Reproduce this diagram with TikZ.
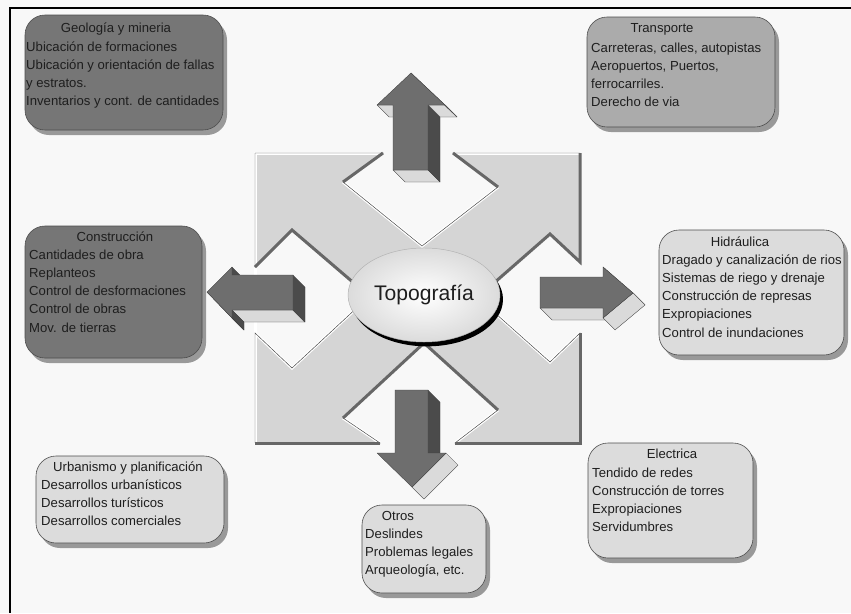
\documentclass[tikz,border=0pt]{standalone}
\usepackage{fontspec}
\setmainfont{Liberation Sans}
\usetikzlibrary{shapes.geometric,shadows}
\definecolor{pagebg}{HTML}{F8F8F8}
\definecolor{crossgray}{HTML}{D5D5D5}
\definecolor{bevdark}{HTML}{676767}
\definecolor{facegray}{HTML}{6E6E6E}
\definecolor{sidegray}{HTML}{4B4B4B}
\definecolor{litegray}{HTML}{DADADA}
\definecolor{boxdark}{HTML}{767676}
\definecolor{boxmid}{HTML}{ABABAB}
\definecolor{boxlite}{HTML}{DCDCDC}
\definecolor{inkgray}{HTML}{1E1E1E}
\tikzset{
	card/.style={rounded corners=0.6cm,draw=black!70,line width=0.5pt,drop shadow={shadow xshift=0.12cm,shadow yshift=-0.15cm,fill=black!40,opacity=1}},
	boxtitle/.style={inner sep=0pt,anchor=base,text=inkgray,font=\fontsize{11.2}{15.5}\selectfont},
	boxtext/.style={inner sep=0pt,anchor=base west,text=inkgray,font=\fontsize{11.2}{15.5}\selectfont},
	frontface/.style={fill=facegray,draw=black!75,line width=0.3pt,line join=round},
	darkface/.style={fill=sidegray,draw=black!75,line width=0.3pt,line join=round},
	litface/.style={fill=litegray,draw=black!75,line width=0.3pt,line join=round},
	lightedge/.style={white,line width=0.09cm},
	darkedge/.style={bevdark,line width=0.09cm},
	topo/.style={ellipse,minimum width=3.72cm,minimum height=2.82cm,inner color=white,outer color=gray!28,draw=gray!60,drop shadow={shadow xshift=0.09cm,shadow yshift=-0.13cm,fill=black,opacity=1},text=inkgray,font=\fontsize{18}{20}\selectfont}
}

\begin{document}
\begin{tikzpicture}[x=0.03cm,y=-0.03cm]
				\useasboundingbox (0,0) rectangle (851,613);
				\fill[pagebg] (0,0) rectangle (851,613);
				\draw[line width=0.06cm] (851,8)--(10,8)--(10,613);
				\fill[crossgray] (255,153)--(383,153)--(343,182)--(422,246)--(498,187)--(453,153)--(580,153)--(580,262)--(550,234)--(486,290)--(486,305)--(550,362)--(580,333)--(580,443)--(455,443)--(498,410)--(424,343)--(343,418)--(380,443)--(255,443)--(255,333)--(292,368)--(362,303)--(362,290)--(292,230)--(255,267)--cycle;
				\draw[lightedge] (380,443)--(255,443)--(255,153)--(383,153);
				\draw[lightedge] (453,153)--(580,153);
				\draw[lightedge] (343,182)--(422,246)--(498,187);
				\draw[lightedge] (255,333)--(292,368)--(362,303);
				\draw[lightedge] (486,305)--(550,362)--(580,333);
				\draw[lightedge] (380,443)--(343,418);
				\draw[lightedge] (498,410)--(455,443);
				\draw[gray!55!black,line width=0.4pt] (255,153)--(383,153)--(343,182)--(422,246)--(498,187)--(453,153)--(580,153)--(580,262)--(550,234)--(486,290)--(486,305)--(550,362)--(580,333)--(580,443)--(455,443)--(498,410)--(424,343)--(343,418)--(380,443)--(255,443)--(255,333)--(292,368)--(362,303)--(362,290)--(292,230)--(255,267)--cycle;
				\draw[darkedge] (383,153)--(343,182);
				\draw[darkedge] (498,187)--(453,153);
				\draw[darkedge] (580,153)--(580,262)--(550,234)--(486,290);
				\draw[darkedge] (580,333)--(580,443)--(455,443);
				\draw[darkedge] (380,443)--(255,443);
				\draw[darkedge] (343,418)--(424,343)--(498,410);
				\draw[darkedge] (255,267)--(292,230)--(362,290);

				\draw[litface] (393,170)--(428,170)--(440,182)--(405,182)--cycle;
				\draw[darkface] (428,170)--(428,105)--(440,117)--(440,182)--cycle;
				\draw[litface] (428,105)--(445,105)--(457,117)--(440,117)--cycle;
				\draw[litface] (377,105)--(393,105)--(405,117)--(389,117)--cycle;
				\draw[litface] (411,73)--(445,105)--(457,117)--(423,85)--cycle;
				\draw[frontface] (393,170)--(428,170)--(428,105)--(445,105)--(411,73)--(377,105)--(393,105)--cycle;

				\draw[litface] (232,310)--(293,310)--(305,322)--(244,322)--cycle;
				\draw[darkface] (293,275)--(305,287)--(305,322)--(293,310)--cycle;
				\draw[darkface] (232,310)--(232,318)--(244,330)--(244,322)--cycle;
				\draw[darkface] (232,267)--(244,279)--(244,287)--(232,275)--cycle;
				\draw[darkface] (207,292)--(232,318)--(244,330)--(219,304)--cycle;
				\draw[frontface] (207,292)--(232,267)--(232,275)--(293,275)--(293,310)--(232,310)--(232,318)--cycle;

				\draw[litface] (540,308)--(603,308)--(615,320)--(552,320)--cycle;
				\draw[litface] (603,267)--(615,279)--(645,305)--(633,293)--cycle;
				\draw[litface] (603,318)--(633,293)--(645,305)--(615,330)--cycle;
				\draw[frontface] (540,277)--(603,277)--(603,267)--(633,293)--(603,318)--(603,308)--(540,308)--cycle;

				\draw[darkface] (428,390)--(440,402)--(440,465)--(428,453)--cycle;
				\draw[litface] (446,453)--(458,465)--(424,499)--(412,487)--cycle;
				\draw[frontface] (395,390)--(428,390)--(428,453)--(446,453)--(412,487)--(377,453)--(395,453)--cycle;

				\node[topo] (topo) at (424,295) {Topografía};

				\draw[card,fill=boxdark] (25,15) rectangle (223,130);
				\node[boxtitle] (geotitle) at (116,32.5) {Geología y mineria};
				\node[boxtext] (geo) at (26,51.5) {\begin{tabular}[t]{@{}l@{}}Ubicación de formaciones\\Ubicación y orientación de fallas\\y estratos.\\Inventarios y cont. de cantidades\end{tabular}};

				\draw[card,fill=boxmid] (587,17) rectangle (775,127);
				\node[boxtitle] (transtitle) at (662,32.5) {Transporte};
				\node[boxtext] (trans) at (591,52.5) {\begin{tabular}[t]{@{}l@{}}Carreteras, calles, autopistas\\Aeropuertos, Puertos,\\ferrocarriles.\\Derecho de via\end{tabular}};

				\draw[card,fill=boxdark] (25,226) rectangle (202,358);
				\node[boxtitle] (consttitle) at (115,241.5) {Construcción};
				\node[boxtext] (const) at (29,259.5) {\begin{tabular}[t]{@{}l@{}}Cantidades de obra\\Replanteos\\Control de desformaciones\\Control de obras\\Mov. de tierras\end{tabular}};

				\draw[card,fill=boxlite] (659,230) rectangle (844,355);
				\node[boxtitle] (hidrotitle) at (740,246.5) {Hidráulica};
				\node[boxtext] (hidro) at (662,264.5) {\begin{tabular}[t]{@{}l@{}}Dragado y canalización de rios\\Sistemas de riego y drenaje\\Construcción de represas\\Expropiaciones\\Control de inundaciones\end{tabular}};

				\draw[card,fill=boxlite] (36,456) rectangle (224,543);
				\node[boxtitle] (urbtitle) at (128,471.5) {Urbanismo y planificación};
				\node[boxtext] (urb) at (41,489.5) {\begin{tabular}[t]{@{}l@{}}Desarrollos urbanísticos\\Desarrollos turísticos\\Desarrollos comerciales\end{tabular}};

				\draw[card,fill=boxlite] (362,505) rectangle (486,593);
				\node[boxtitle] (otrostitle) at (398,520.5) {Otros};
				\node[boxtext] (otros) at (365,538.5) {\begin{tabular}[t]{@{}l@{}}Deslindes\\Problemas legales\\Arqueología, etc.\end{tabular}};

				\draw[card,fill=boxlite] (588,443) rectangle (753,558);
				\node[boxtitle] (electitle) at (672,458.5) {Electrica};
				\node[boxtext] (elec) at (592,477.5) {\begin{tabular}[t]{@{}l@{}}Tendido de redes\\Construcción de torres\\Expropiaciones\\Servidumbres\end{tabular}};
			\end{tikzpicture}
\end{document}
